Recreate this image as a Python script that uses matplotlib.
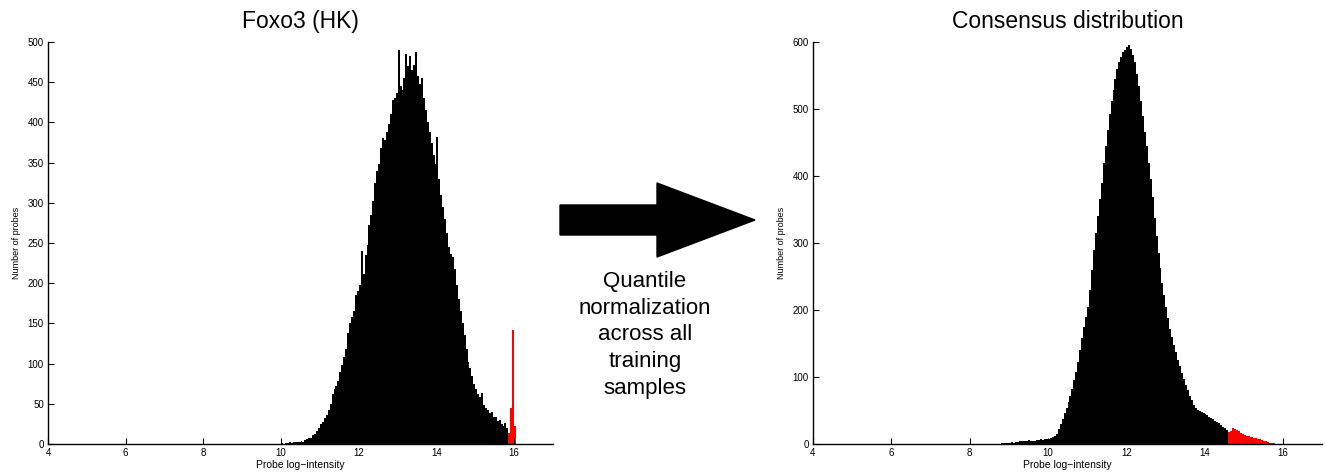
import numpy as np
import matplotlib
matplotlib.use("Agg")
import matplotlib.pyplot as plt
from matplotlib.patches import Polygon

plt.rcParams['font.family'] = ['Liberation Sans', 'DejaVu Sans']

# ---- left panel: Foxo3 (HK) raw intensities, bins of 0.05 starting at 10.0
left_start = 10.0
left_width = 0.05
left_black = [
    1, 0, 1, 1, 2, 1, 2, 3, 2, 3,
    4, 3, 5, 6, 8, 7, 11, 13, 16, 20,
    25, 27, 32, 36, 42, 50, 62, 68, 72, 78,
    90, 98, 108, 118, 138, 150, 158, 165, 185, 190,
    198, 240, 212, 235, 248, 272, 285, 302, 325, 340,
    348, 368, 380, 378, 388, 398, 410, 428, 430, 436,
    490, 445, 440, 455, 485, 470, 482, 465, 472, 488,
    458, 448, 455, 430, 415, 400, 388, 375, 360, 348,
    382, 330, 310, 295, 280, 262, 245, 236, 232, 218,
    198, 180, 165, 150, 135, 118, 102, 95, 85, 75,
    68, 62, 58, 64, 48, 45, 42, 38, 40, 34,
    33, 28, 30, 25, 22, 26, 20, 12,
]
# housekeeping probes (red), bins of 0.05 starting at 15.85
left_red_start = 15.85
left_red = [14, 45, 142, 22]

# ---- right panel: consensus distribution, bins of 0.05 starting at 8.8
right_start = 8.8
right_width = 0.05
right_black = [
    1, 1, 2, 2, 2, 3, 2, 3, 3, 4,
    4, 5, 4, 5, 6, 5, 4, 5, 6, 6,
    7, 6, 7, 8, 8, 9, 10, 12, 15, 22,
    30, 38, 46, 54, 62, 72, 82, 95, 108, 122,
    140, 158, 175, 190, 205, 230, 260, 290, 315, 340,
    365, 390, 420, 445, 468, 492, 512, 528, 545, 560,
    570, 578, 585, 588, 592, 595, 590, 580, 570, 552,
    535, 512, 490, 465, 445, 420, 395, 368, 338, 310,
    285, 262, 240, 222, 205, 188, 172, 160, 148, 137,
    126, 116, 106, 97, 88, 80, 72, 65, 58, 54,
    51, 50, 48, 47, 45, 43, 41, 39, 37, 35,
    33, 31, 28, 26, 24, 21,
]
right_red_start = 14.6
right_red = [
    18, 20, 24, 23, 21, 19, 17, 15, 14, 12,
    12, 11, 10, 9, 9, 8, 7, 6, 5, 4,
    3, 2, 2, 1,
]

left_title = "Foxo3 (HK)"
right_title = "Consensus distribution"
xlab = "Probe log\u2212intensity"
ylab = "Number of probes"
middle_text = "Quantile\nnormalization\nacross all\ntraining\nsamples"


def edges(start, width, n):
    return start + width * np.arange(n + 1)


W, H = 1326, 475
fig = plt.figure(figsize=(W / 100, H / 100), dpi=100)


def make_axes(x0, x1, y0, y1):
    return fig.add_axes([x0 / W, 1 - y1 / H, (x1 - x0) / W, (y1 - y0) / H])


def style(ax, ymax, ystep, title):
    ax.set_xlim(4, 17)
    ax.set_ylim(0, ymax)
    ax.set_xticks(np.arange(4, 17, 2))
    ax.set_yticks(np.arange(0, ymax + 1, ystep))
    for s in ("top", "right"):
        ax.spines[s].set_visible(False)
    for s in ("left", "bottom"):
        ax.spines[s].set_linewidth(1.0)
    ax.tick_params(direction="in", length=4, width=0.8, labelsize=7, pad=3)
    ax.set_xlabel(xlab, fontsize=7.5, labelpad=1)
    ax.set_ylabel(ylab, fontsize=6.5, labelpad=5)
    ax.set_title(title, fontsize=16.5, pad=10)


ax1 = make_axes(48, 553, 42, 444)
ax1.stairs(left_black, edges(left_start, left_width, len(left_black)),
           fill=True, color="black", lw=0)
ax1.stairs(left_red, edges(left_red_start, left_width, len(left_red)),
           fill=True, color="red", lw=0)
style(ax1, 500, 50, left_title)

ax2 = make_axes(813, 1322, 42, 444)
ax2.stairs(right_black, edges(right_start, right_width, len(right_black)),
           fill=True, color="black", lw=0)
ax2.stairs(right_red, edges(right_red_start, right_width, len(right_red)),
           fill=True, color="red", lw=0)
style(ax2, 600, 100, right_title)

# overlay in pixel coordinates for the arrow and the caption
ov = fig.add_axes([0, 0, 1, 1], zorder=-1)
ov.set_xlim(0, W)
ov.set_ylim(H, 0)
ov.axis("off")
arrow = [(560, 205), (657, 205), (657, 183), (755, 220),
         (657, 257), (657, 235), (560, 235)]
ov.add_patch(Polygon(arrow, closed=True, color="black"))
ov.text(645, 335, middle_text, ha="center", va="center", fontsize=16,
        linespacing=1.37)

fig.savefig("out.png", dpi=100)
